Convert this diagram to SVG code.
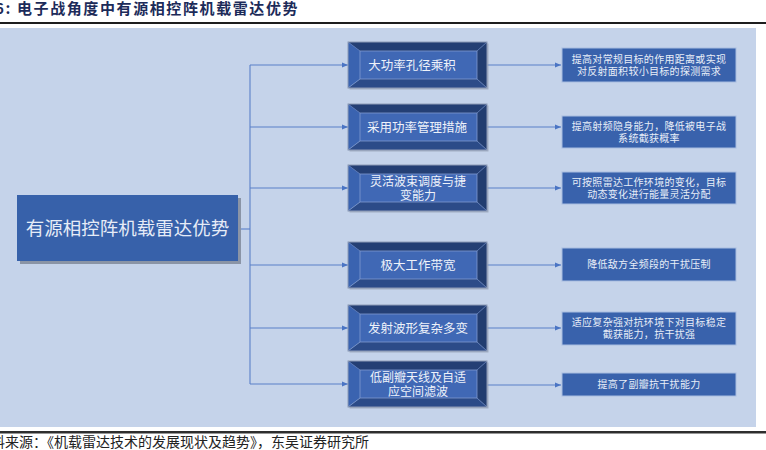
<svg xmlns="http://www.w3.org/2000/svg" xmlns:xlink="http://www.w3.org/1999/xlink" width="766" height="450" viewBox="0 0 766 450">
<style>
.cjk{font-family:"Noto Sans CJK SC","Noto Sans",sans-serif;}
.title{font-size:15px;font-weight:bold;fill:#1c2b59;letter-spacing:1.6px;}
.src{font-size:14px;fill:#222;}
.main{font-size:18.5px;fill:#e6ecf7;text-anchor:middle;}
.mid{font-size:12.5px;fill:#eef2fa;text-anchor:middle;}
.mid2{font-size:12px;fill:#eef2fa;text-anchor:middle;}
.rt{font-size:10px;fill:#e8eef8;text-anchor:middle;letter-spacing:0.3px;}
.rbox{fill:#3962ac;stroke:#a9bde0;stroke-width:1;}
.conn{stroke:#5a80c8;stroke-width:1.1;fill:none;}
</style>
<defs>
<marker id="arr" viewBox="0 0 10 10" refX="10" refY="5" markerWidth="6" markerHeight="6" markerUnits="userSpaceOnUse" orient="auto">
<path d="M0,1 L10,5 L0,9 z" fill="#4a74c4"/>
</marker>
<g id="bevel">
<rect x="1.5" y="1.5" width="139" height="46" fill="#8c97aa" opacity="0.6"/>
<polygon points="0,0 139,0 129,9 12,9" fill="#243f74"/>
<polygon points="0,0 12,9 12,37 0,46" fill="#3a63b0"/>
<polygon points="0,46 12,37 129,37 139,46" fill="#2c4b88"/>
<polygon points="139,0 139,46 129,37 129,9" fill="#223d70"/>
<line x1="0" y1="46" x2="12" y2="37" stroke="#7e9ad2" stroke-width="0.8"/>
<line x1="139" y1="46" x2="129" y2="37" stroke="#6a86c0" stroke-width="0.8"/>
<line x1="139" y1="0" x2="129" y2="9" stroke="#5d7ab5" stroke-width="0.8"/>
<line x1="0" y1="0" x2="12" y2="9" stroke="#5a78b8" stroke-width="0.8"/>
<rect x="12" y="9" width="117" height="28" fill="#4068b5" stroke="#7f99cf" stroke-width="0.8"/>
<rect x="0" y="0" width="139" height="46" fill="none" stroke="#8e9bb6" stroke-width="1"/>
</g>
</defs>
<rect x="0" y="0" width="766" height="450" fill="#ffffff"/>
<text class="cjk title" x="-5" y="14">6:  电子战角度中有源相控阵机载雷达优势</text>
<rect x="0" y="22" width="766" height="2" fill="#1e1e1e"/>
<rect x="0" y="28" width="756" height="399" fill="#c5d3ea"/>
<rect x="0" y="431" width="766" height="2.5" fill="#2e2e2e"/>
<text class="cjk src" x="-9" y="447">料来源：《机载雷达技术的发展现状及趋势》，东吴证券研究所</text>

<g id="connectors">
<path class="conn" d="M238,229 H250"/>
<path class="conn" d="M250,65 V384"/>
<path class="conn" d="M250,65 H348" marker-end="url(#arr)"/>
<path class="conn" d="M250,127 H348" marker-end="url(#arr)"/>
<path class="conn" d="M250,188 H348" marker-end="url(#arr)"/>
<path class="conn" d="M250,265 H348" marker-end="url(#arr)"/>
<path class="conn" d="M250,328 H348" marker-end="url(#arr)"/>
<path class="conn" d="M250,384 H348" marker-end="url(#arr)"/>
<path class="conn" d="M487,65 H561" marker-end="url(#arr)"/>
<path class="conn" d="M487,127 H561" marker-end="url(#arr)"/>
<path class="conn" d="M487,188 H561" marker-end="url(#arr)"/>
<path class="conn" d="M487,265 H561" marker-end="url(#arr)"/>
<path class="conn" d="M487,328 H561" marker-end="url(#arr)"/>
<path class="conn" d="M487,385 H561" marker-end="url(#arr)"/>
</g>

<g id="main">
<rect x="20" y="198" width="221" height="66" fill="#8a94a6"/>
<rect x="17" y="195" width="221" height="66" fill="#3761aa"/>
<text class="cjk main" x="127.5" y="234.5">有源相控阵机载雷达优势</text>
</g>

<g id="m1">
<use xlink:href="#bevel" x="348" y="42"/>
<text class="cjk mid" x="412" y="69.5">大功率孔径乘积</text>
</g>
<g id="m2">
<use xlink:href="#bevel" x="348" y="104"/>
<text class="cjk mid" x="417" y="131.5">采用功率管理措施</text>
</g>
<g id="m3">
<use xlink:href="#bevel" x="348" y="165"/>
<text class="cjk mid2" x="418" y="185.5">灵活波束调度与捷</text>
<text class="cjk mid2" x="418" y="199.5">变能力</text>
</g>
<g id="m4">
<use xlink:href="#bevel" x="348" y="242"/>
<text class="cjk mid" x="418" y="269.5">极大工作带宽</text>
</g>
<g id="m5">
<use xlink:href="#bevel" x="348" y="305"/>
<text class="cjk mid" x="418" y="332.5">发射波形复杂多变</text>
</g>
<g id="m6">
<use xlink:href="#bevel" x="348" y="361"/>
<text class="cjk mid2" x="418" y="381.5">低副瓣天线及自适</text>
<text class="cjk mid2" x="418" y="395.5">应空间滤波</text>
</g>

<g id="r1">
<rect class="rbox" x="562" y="48" width="174" height="34"/>
<text class="cjk rt" x="649" y="62.5">提高对常规目标的作用距离或实现</text>
<text class="cjk rt" x="649" y="74.5">对反射面积较小目标的探测需求</text>
</g>
<g id="r2">
<rect class="rbox" x="562" y="116" width="174" height="32"/>
<text class="cjk rt" x="649" y="129.5">提高射频隐身能力，降低被电子战</text>
<text class="cjk rt" x="649" y="141.5">系统截获概率</text>
</g>
<g id="r3">
<rect class="rbox" x="562" y="172" width="174" height="32"/>
<text class="cjk rt" x="649" y="185.5">可按照雷达工作环境的变化，目标</text>
<text class="cjk rt" x="649" y="197.5">动态变化进行能量灵活分配</text>
</g>
<g id="r4">
<rect class="rbox" x="562" y="248" width="174" height="33"/>
<text class="cjk rt" x="649" y="268">降低敌方全频段的干扰压制</text>
</g>
<g id="r5">
<rect class="rbox" x="562" y="312" width="174" height="33"/>
<text class="cjk rt" x="649" y="326">适应复杂强对抗环境下对目标稳定</text>
<text class="cjk rt" x="649" y="338">截获能力，抗干扰强</text>
</g>
<g id="r6">
<rect class="rbox" x="562" y="373" width="174" height="23"/>
<text class="cjk rt" x="649" y="388">提高了副瓣抗干扰能力</text>
</g>
</svg>
